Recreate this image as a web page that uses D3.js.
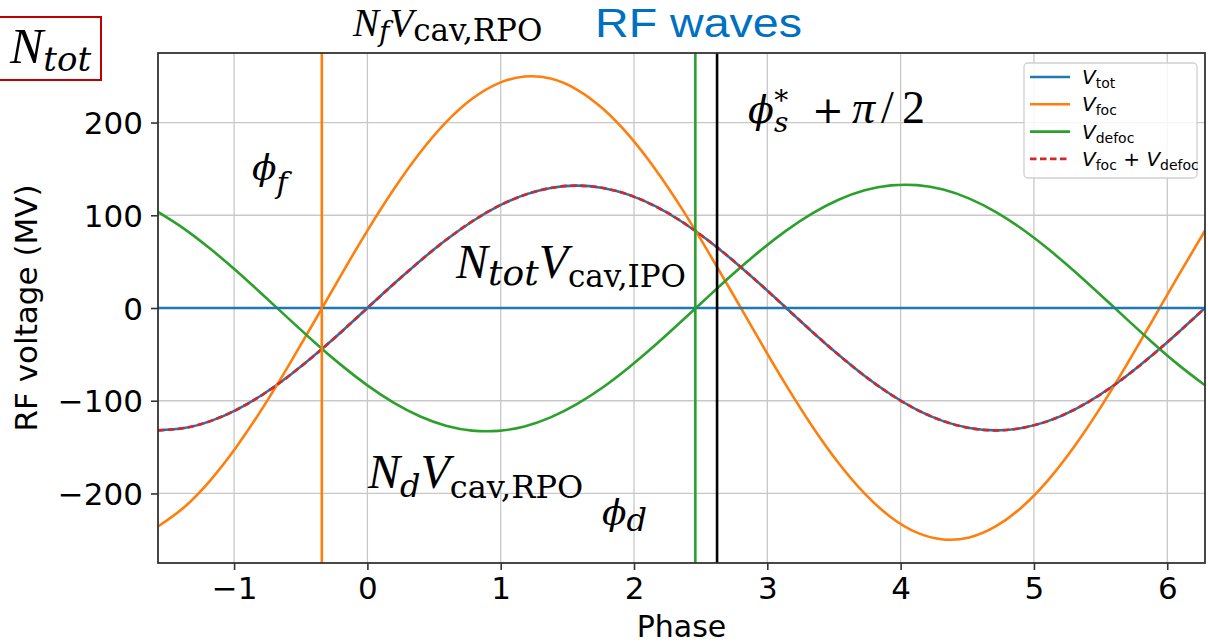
<!DOCTYPE html>
<html>
<head>
<meta charset="utf-8">
<script src="https://cdn.jsdelivr.net/npm/d3@7"></script>
<style>
  html, body { margin: 0; padding: 0; background: #fff; }
  svg { display: block; }
</style>
</head>
<body>
<svg id="chart" width="1208" height="644"></svg>
<script>
// ---------------- data ----------------
// phase samples, step pi/16, from -pi/2 to 2*pi
const phase = [-1.5708, -1.3744, -1.1781, -0.9817, -0.7854, -0.5890, -0.3927, -0.1963,
               0.0000, 0.1963, 0.3927, 0.5890, 0.7854, 0.9817, 1.1781, 1.3744,
               1.5708, 1.7671, 1.9635, 2.1598, 2.3562, 2.5525, 2.7489, 2.9452,
               3.1416, 3.3379, 3.5343, 3.7306, 3.9270, 4.1233, 4.3197, 4.5160,
               4.7124, 4.9087, 5.1051, 5.3014, 5.4978, 5.6941, 5.8905, 6.0868, 6.2832];
const vTot = [-132, -129.5, -122.0, -109.8, -93.3, -73.3, -50.5, -25.8,
              0, 25.8, 50.5, 73.3, 93.3, 109.8, 122.0, 129.5,
              132, 129.5, 122.0, 109.8, 93.3, 73.3, 50.5, 25.8,
              0, -25.8, -50.5, -73.3, -93.3, -109.8, -122.0, -129.5,
              -132, -129.5, -122.0, -109.8, -93.3, -73.3, -50.5, -25.8, 0];
const vFoc = [-235.6, -214.8, -185.8, -149.6, -107.7, -61.6, -13.2, 35.8,
              83.4, 127.7, 167.2, 200.2, 225.6, 242.3, 249.6, 247.4,
              235.6, 214.8, 185.8, 149.6, 107.7, 61.6, 13.2, -35.8,
              -83.4, -127.7, -167.2, -200.2, -225.6, -242.3, -249.6, -247.4,
              -235.6, -214.8, -185.8, -149.6, -107.7, -61.6, -13.2, 35.8, 83.4];
const vDefoc = [103.6, 85.4, 63.8, 39.9, 14.3, -11.7, -37.4, -61.6,
                -83.4, -102.0, -116.7, -126.9, -132.2, -132.5, -127.7, -117.9,
                -103.6, -85.4, -63.8, -39.9, -14.3, 11.7, 37.4, 61.6,
                83.4, 102.0, 116.7, 126.9, 132.2, 132.5, 127.7, 117.9,
                103.6, 85.4, 63.8, 39.9, 14.3, -11.7, -37.4, -61.6, -83.4];
const xTicks = [-1, 0, 1, 2, 3, 4, 5, 6];
const yTicks = [-200, -100, 0, 100, 200];
const phiF = -0.342;      // orange vertical line
const phiD = 2.46;        // green vertical line
const phiS = 2.623;       // black vertical line (phi_s* + pi/2)
const xDomain = [-1.5708, 6.2832];
const yDomain = [-275, 275];

// ---------------- layout ----------------
const svg = d3.select("#chart");
const L = 158, R = 1205, T = 53, B = 563;
const x = d3.scaleLinear().domain(xDomain).range([L, R]);
const y = d3.scaleLinear().domain(yDomain).range([B, T]);

const C = { blue: "#1f77b4", orange: "#ff7f0e", green: "#2ca02c", red: "#d62728" };
const LW = 2.6;

svg.append("defs").append("clipPath").attr("id", "clip")
  .append("rect").attr("x", L).attr("y", T).attr("width", R - L).attr("height", B - T);

// grid
const grid = svg.append("g");
grid.selectAll("line.gx").data(xTicks).join("line")
  .attr("x1", d => x(d)).attr("x2", d => x(d)).attr("y1", T).attr("y2", B)
  .attr("stroke", "#c8c8c8").attr("stroke-width", 1.3);
grid.selectAll("line.gy").data(yTicks).join("line")
  .attr("y1", d => y(d)).attr("y2", d => y(d)).attr("x1", L).attr("x2", R)
  .attr("stroke", "#c8c8c8").attr("stroke-width", 1.3);

// curves
const plot = svg.append("g").attr("clip-path", "url(#clip)");
const line = d3.line().x(d => x(d[0])).y(d => y(d[1])).curve(d3.curveNatural);
const zip = arr => phase.map((p, i) => [p, arr[i]]);
const vSum = vFoc.map((v, i) => v + vDefoc[i]);

plot.append("path").datum(zip(vTot)).attr("d", line)
  .attr("fill", "none").attr("stroke", C.blue).attr("stroke-width", LW);
plot.append("path").datum(zip(vFoc)).attr("d", line)
  .attr("fill", "none").attr("stroke", C.orange).attr("stroke-width", LW);
plot.append("path").datum(zip(vDefoc)).attr("d", line)
  .attr("fill", "none").attr("stroke", C.green).attr("stroke-width", LW);
plot.append("path").datum(zip(vSum)).attr("d", line)
  .attr("fill", "none").attr("stroke", C.red).attr("stroke-width", LW)
  .attr("stroke-dasharray", "6.5,3.5");

// horizontal zero line
plot.append("line").attr("x1", L).attr("x2", R).attr("y1", y(0)).attr("y2", y(0))
  .attr("stroke", C.blue).attr("stroke-width", LW);

// vertical lines
[[phiF, C.orange], [phiD, C.green], [phiS, "#000"]].forEach(([p, c]) => {
  plot.append("line").attr("x1", x(p)).attr("x2", x(p)).attr("y1", T).attr("y2", B)
    .attr("stroke", c).attr("stroke-width", LW);
});

// axes
const tickFont = "DejaVu Sans, sans-serif";
const fmt = d => d < 0 ? "\u2212" + Math.abs(d) : String(d);
const xAxis = svg.append("g").attr("transform", `translate(0,${B})`)
  .call(d3.axisBottom(x).tickValues(xTicks).tickFormat(fmt).tickSize(7).tickPadding(7));
const yAxis = svg.append("g").attr("transform", `translate(${L},0)`)
  .call(d3.axisLeft(y).tickValues(yTicks).tickFormat(fmt).tickSize(7).tickPadding(8));
[xAxis, yAxis].forEach(a => {
  a.select(".domain").remove();
  a.selectAll(".tick line").attr("stroke", "#333").attr("stroke-width", 1.6);
  a.selectAll(".tick text").attr("font-family", tickFont).attr("font-size", 31).attr("fill", "#000");
});
xAxis.selectAll(".tick text").attr("dy", "0.71em");
yAxis.selectAll(".tick text").attr("dy", "0.36em");

// frame
svg.append("rect").attr("x", L).attr("y", T).attr("width", R - L).attr("height", B - T)
  .attr("fill", "none").attr("stroke", "#333").attr("stroke-width", 1.8);

// axis labels
svg.append("text").attr("x", (L + R) / 2).attr("y", 637).attr("text-anchor", "middle")
  .attr("font-family", tickFont).attr("font-size", 30).text("Phase");
svg.append("text").attr("transform", `translate(37,${(T + B) / 2}) rotate(-90)`)
  .attr("text-anchor", "middle").attr("font-family", tickFont).attr("font-size", 31)
  .text("RF voltage (MV)");

// legend
const lg = svg.append("g");
lg.append("rect").attr("x", 1024).attr("y", 63).attr("width", 173).attr("height", 115)
  .attr("rx", 4).attr("fill", "#fff").attr("fill-opacity", 0.85)
  .attr("stroke", "#d0d0d0").attr("stroke-width", 1.3);
const legItems = [
  { c: C.blue, dash: null, parts: [["V", "i"], ["tot", "s"]] },
  { c: C.orange, dash: null, parts: [["V", "i"], ["foc", "s"]] },
  { c: C.green, dash: null, parts: [["V", "i"], ["defoc", "s"]] },
  { c: C.red, dash: "6.5,3.5", parts: [["V", "i"], ["foc", "s"], [" + ", "n"], ["V", "i"], ["defoc", "s"]] }
];
legItems.forEach((it, i) => {
  const cy = 77 + i * 27.3;
  lg.append("line").attr("x1", 1030).attr("x2", 1070).attr("y1", cy).attr("y2", cy)
    .attr("stroke", it.c).attr("stroke-width", LW).attr("stroke-dasharray", it.dash);
  const t = lg.append("text").attr("x", 1082).attr("y", cy + 7)
    .attr("font-family", tickFont).attr("font-size", 20).style("white-space", "pre");
  let shifted = false;
  it.parts.forEach(([s, k]) => {
    const ts = t.append("tspan").text(s);
    if (k === "i") { ts.attr("font-style", "italic"); if (shifted) { ts.attr("dy", -4); shifted = false; } }
    if (k === "n") { ts.attr("dy", shifted ? -4 : 0); shifted = false; }
    if (k === "s") { ts.attr("font-size", 14).attr("dy", 4); shifted = true; }
  });
});

// ---------------- math annotations ----------------
const SERIF = "Liberation Serif, Times New Roman, serif";
const DJS = "DejaVu Serif, serif";
// parts: [text, size, italic, baselineOffset, family, dx, absX]
function mathLabel(x0, y0, parts, fill) {
  const t = svg.append("text").attr("x", x0).attr("y", y0)
    .attr("fill", fill || "#000").style("white-space", "pre");
  let cur = 0;
  parts.forEach(([s, size, it, off, fam, dx, ax]) => {
    const ts = t.append("tspan").text(s).attr("font-size", size)
      .attr("font-family", fam || DJS)
      .attr("font-style", it ? "italic" : "normal")
      .attr("dy", off - cur);
    if (dx) ts.attr("dx", dx);
    if (ax != null) ts.attr("x", ax);
    cur = off;
  });
  return t;
}

// N_tot box
svg.append("rect").attr("x", -1).attr("y", 17).attr("width", 102).attr("height", 63)
  .attr("fill", "none").attr("stroke", "#c00000").attr("stroke-width", 2);
mathLabel(10, 63, [["N", 50, true, 0, SERIF], ["tot", 34, true, 8, DJS]]);

// top label
mathLabel(353, 36, [["N", 39, true, 0, SERIF], ["f", 28, true, 5, DJS], ["V", 39, true, 0, SERIF], ["cav,RPO", 31, false, 5, DJS]]);

// RF waves
svg.append("text").attr("x", 595).attr("y", 37).attr("font-family", "Liberation Sans, Arial, sans-serif")
  .attr("font-size", 41).attr("textLength", 207).attr("lengthAdjust", "spacingAndGlyphs")
  .attr("fill", "#0070c0").text("RF waves");

// phi_s* + pi/2
mathLabel(748, 123, [["\u03D5", 38, true, 0, DJS], ["s", 28, true, 9, DJS], ["*", 28, false, -13, DJS, -14],
  ["+", 38, false, 0, DJS, 0, 812], ["\u03C0", 46, true, 0, SERIF, 0, 852],
  ["/", 46, false, 0, SERIF, 0, 881], ["2", 46, false, 0, SERIF, 0, 902]]);

// phi_f
mathLabel(252, 180, [["\u03D5", 36, true, 0, DJS], ["f", 30, true, 13, DJS]]);

// N_tot V_cav,IPO
mathLabel(456, 278, [["N", 48, true, 0, SERIF], ["tot", 36, true, 7, DJS], ["V", 48, true, 0, SERIF], ["cav,IPO", 31, false, 9, DJS]]);

// N_d V_cav,RPO
mathLabel(368, 488, [["N", 48, true, 0, SERIF], ["d", 32, true, 9, DJS], ["V", 48, true, 0, SERIF], ["cav,RPO", 32, false, 10, DJS]]);

// phi_d
mathLabel(602, 525, [["\u03D5", 36, true, 0, DJS], ["d", 32, true, 6, DJS]]);
</script>
</body>
</html>
